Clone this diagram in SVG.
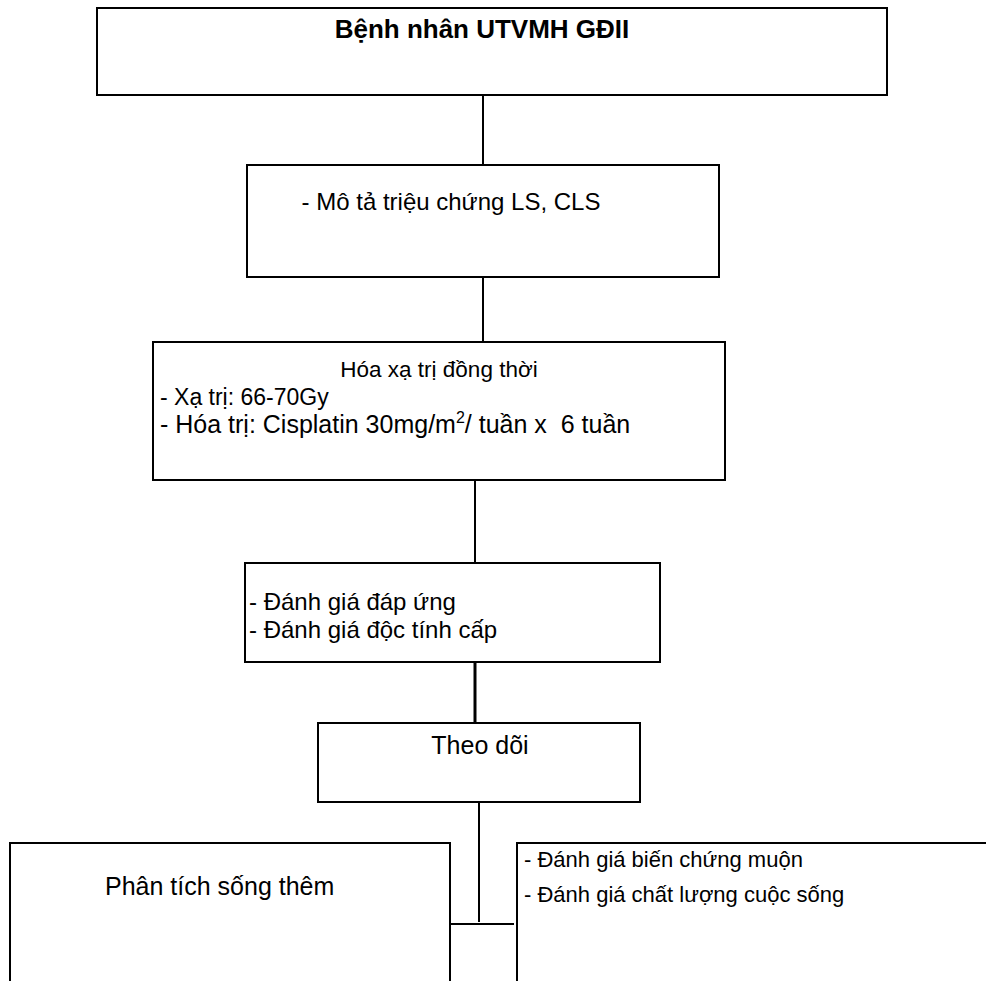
<svg xmlns="http://www.w3.org/2000/svg" width="986" height="981" viewBox="0 0 986 981">
<style>
.box{fill:#fff;stroke:#000;stroke-width:2}
.t{font-family:"Liberation Sans",Arial,sans-serif;font-size:24px;fill:#000}
.b{font-weight:bold}
.c{stroke:#000;stroke-width:2;fill:none}
</style>
<rect width="986" height="981" fill="#fff"/>
<g id="connectors">
<line class="c" x1="483" y1="95" x2="483" y2="165"/>
<line class="c" x1="483" y1="277" x2="483" y2="342"/>
<line class="c" x1="475" y1="480" x2="475" y2="563"/>
<line class="c" x1="475" y1="662" x2="475" y2="723" style="stroke-width:3"/>
<line class="c" x1="479" y1="802" x2="479" y2="922"/>
<line class="c" x1="450" y1="924" x2="514" y2="924"/>
</g>
<g id="n1">
<rect class="box" x="97" y="8" width="790" height="87"/>
<text class="t b" x="482" y="38" text-anchor="middle" style="font-size:26px">Bệnh nhân UTVMH GĐII</text>
</g>
<g id="n2">
<rect class="box" x="247" y="165" width="472" height="112"/>
<text class="t" x="451" y="210" text-anchor="middle">- Mô tả triệu chứng LS, CLS</text>
</g>
<g id="n3">
<rect class="box" x="153" y="342" width="572" height="138"/>
<text class="t" x="439" y="377" text-anchor="middle" style="font-size:22.5px">Hóa xạ trị đồng thời</text>
<text class="t" x="160" y="405" style="font-size:23px">- Xạ trị: 66-70Gy</text>
<text class="t" x="160" y="433" style="font-size:25px" xml:space="preserve">- Hóa trị: Cisplatin 30mg/m<tspan dy="-10" font-size="16">2</tspan><tspan dy="10">/ tuần x  6 tuần</tspan></text>
</g>
<g id="n4">
<rect class="box" x="245" y="563" width="415" height="99"/>
<text class="t" x="249" y="610">- Đánh giá đáp ứng</text>
<text class="t" x="249" y="638">- Đánh giá độc tính cấp</text>
</g>
<g id="n5">
<rect class="box" x="318" y="723" width="322" height="79"/>
<text class="t" x="480" y="754" text-anchor="middle" style="font-size:25px">Theo dõi</text>
</g>
<g id="n6">
<path class="c" d="M10,982 V843 H450 V982"/>
<text class="t" x="105" y="895" style="font-size:25px">Phân tích sống thêm</text>
</g>
<g id="n7">
<path class="c" d="M517,982 V843 H987"/>
<text class="t" x="524" y="867" style="font-size:22px">- Đánh giá biến chứng muộn</text>
<text class="t" x="524" y="902" style="font-size:22px">- Đánh giá chất lượng cuộc sống</text>
</g>
</svg>
